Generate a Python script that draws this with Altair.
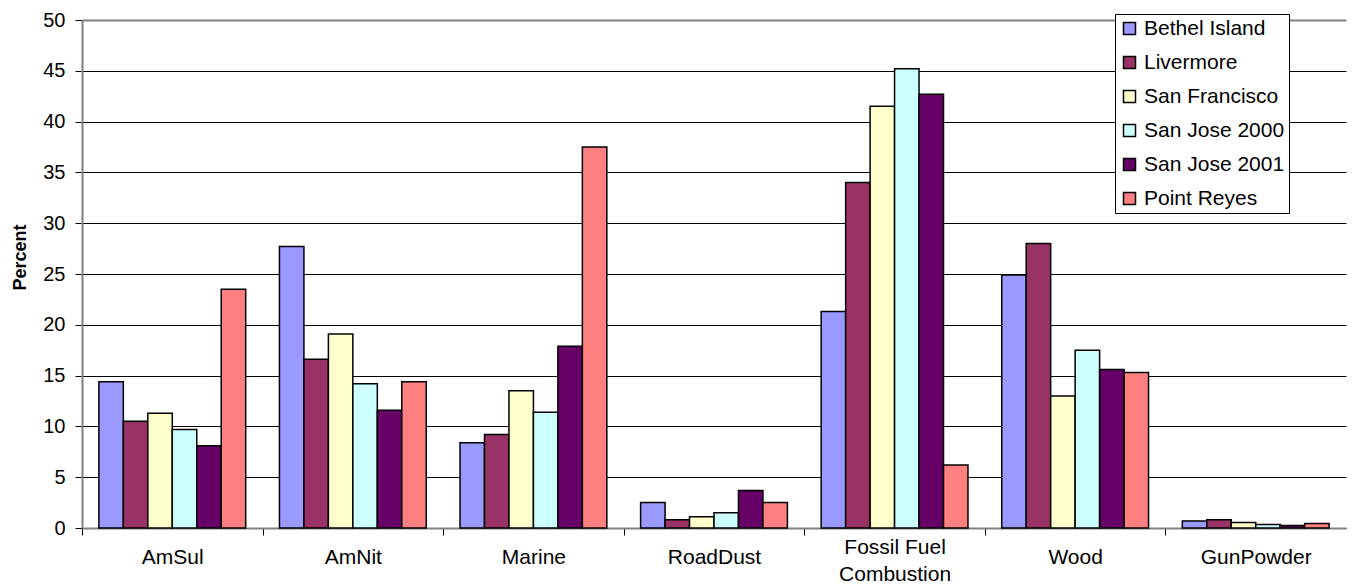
import altair as alt
import pandas as pd

categories = ["AmSul", "AmNit", "Marine", "RoadDust", "Fossil Fuel Combustion", "Wood", "GunPowder"]
sites = ["Bethel Island", "Livermore", "San Francisco", "San Jose 2000", "San Jose 2001", "Point Reyes"]
colors = ["#9999FF", "#993366", "#FFFFCC", "#CCFFFF", "#660066", "#FF8080"]

bethel_island = [14.4, 27.7, 8.4, 2.5, 21.3, 24.9, 0.7]
livermore = [10.5, 16.6, 9.2, 0.8, 34.0, 28.0, 0.8]
san_francisco = [11.3, 19.1, 13.5, 1.1, 41.5, 13.0, 0.55]
san_jose_2000 = [9.7, 14.2, 11.4, 1.5, 45.2, 17.5, 0.35]
san_jose_2001 = [8.1, 11.6, 17.9, 3.7, 42.7, 15.6, 0.25]
point_reyes = [23.5, 14.4, 37.5, 2.5, 6.2, 15.3, 0.45]

y_ticks = [0, 5, 10, 15, 20, 25, 30, 35, 40, 45, 50]

series = [bethel_island, livermore, san_francisco, san_jose_2000, san_jose_2001, point_reyes]
rows = []
for site, vals in zip(sites, series):
    for cat, v in zip(categories, vals):
        rows.append({"Category": cat, "Site": site, "Percent": v})
df = pd.DataFrame(rows)

FONT = "Liberation Sans"
RANGE_W = 1264
P_IN = 0.187
P_OUT = P_IN / 2
STEP = RANGE_W / (len(categories) - P_IN + 2 * P_OUT)
HALF = STEP / 2

chart = alt.Chart(df).mark_bar(stroke="black", strokeWidth=1.5).encode(
    x=alt.X(
        "Category:N",
        sort=categories,
        scale=alt.Scale(range=[0, RANGE_W], paddingInner=P_IN, paddingOuter=P_OUT),
        axis=alt.Axis(
            title=None,
            labelAngle=0,
            tickOffset=-HALF,
            labelOffset=HALF,
            tickSize=7,
            tickColor="black",
            domainColor="#808080",
            domainWidth=2,
            labelFont=FONT,
            labelFontSize=21,
            labelColor="black",
            labelPadding=22,
            labelBaseline={"condition": {"test": "datum.value == 'Fossil Fuel Combustion'", "value": "bottom"}, "value": "middle"},
            labelLineHeight=27,
            labelLimit=400,
            labelExpr="datum.value == 'Fossil Fuel Combustion' ? ['Fossil Fuel', 'Combustion'] : datum.value",
            grid=False,
        ),
    ),
    xOffset=alt.XOffset("Site:N", sort=sites, scale=alt.Scale(paddingInner=0, paddingOuter=0)),
    y=alt.Y(
        "Percent:Q",
        scale=alt.Scale(domain=[0, 50], nice=False),
        axis=alt.Axis(
            values=y_ticks,
            title="Percent",
            titleFont=FONT,
            titleFontSize=18,
            titleFontWeight="bold",
            titleColor="black",
            titleAngle=270,
            titleBaseline="alphabetic",
            titleX=-57,
            titleY=237,
            labelFont=FONT,
            labelFontSize=20,
            labelColor="black",
            labelPadding=10,
            tickSize=7,
            tickColor="black",
            domainColor="#808080",
            domainWidth=2,
            gridColor={"condition": {"test": "datum.value === 50", "value": "#808080"}, "value": "black"},
            gridWidth={"condition": {"test": "datum.value === 50", "value": 2}, "value": 1},
        ),
    ),
    color=alt.Color(
        "Site:N",
        sort=sites,
        scale=alt.Scale(domain=sites, range=colors),
        legend=alt.Legend(
            title=None,
            orient="none",
            legendX=1033,
            legendY=-6,
            labelFont=FONT,
            labelFontSize=21,
            labelColor="black",
            labelLimit=400,
            labelOffset=4,
            symbolType="square",
            symbolSize=144,
            symbolStrokeColor="black",
            symbolStrokeWidth=1.5,
            symbolOpacity=1,
            strokeColor="black",
            fillColor="white",
            padding=4,
            rowPadding=12,
        ),
    ),
).properties(
    width=1266,
    height=508,
    padding={"left": 74, "top": 12, "right": 0, "bottom": 56},
    autosize=alt.AutoSizeParams(type="none"),
).configure_view(stroke=None)

chart.save("out.html", embed_options={"renderer": "svg", "actions": False})
